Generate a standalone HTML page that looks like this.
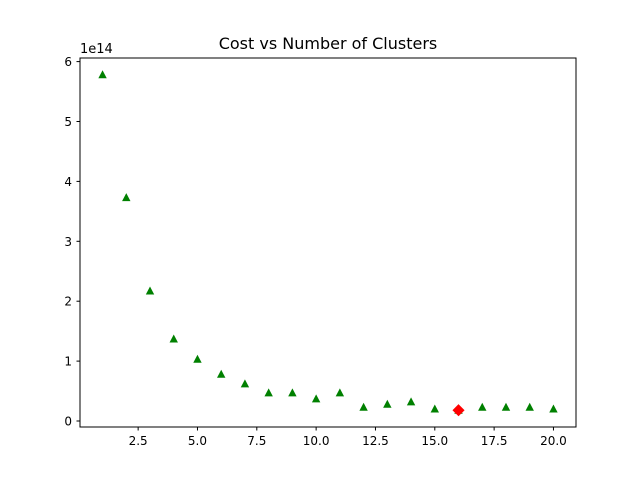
<!DOCTYPE html>
<html><head><meta charset="utf-8"><style>
body{margin:0;background:#fff;font-family:"Liberation Sans","DejaVu Sans",sans-serif;}
svg text{font-family:"DejaVu Sans","Liberation Sans",sans-serif;}
</style></head><body>
<svg id="chart" width="640" height="480" xmlns="http://www.w3.org/2000/svg">
<rect width="640" height="480" fill="#fff"/>
<text x="328" y="49" text-anchor="middle" font-size="16">Cost vs Number of Clusters</text>
<text x="80" y="53" font-size="13">1e14</text>
<g id="ticks"></g>
<g id="marks"></g>
<rect x="80" y="58" width="496" height="369" fill="none" stroke="#000" stroke-width="1"/>
</svg>
<script>
const clusters=[1,2,3,4,5,6,7,8,9,10,11,12,13,14,15,16,17,18,19,20];
const costs=[5.78,3.73,2.17,1.37,1.03,0.78,0.62,0.47,0.47,0.37,0.47,0.23,0.28,0.32,0.20,0.18,0.23,0.23,0.23,0.20];
const bestK=[16];
const bestCost=[0.18];
const xTicks=[2.5,5.0,7.5,10.0,12.5,15.0,17.5,20.0];
const yTicks=[0,1,2,3,4,5,6];
const X0=80,X1=576,Y0=427,Y1=58,xmin=0.05,xmax=20.95,ymin=-0.1,ymax=6.06;
function sx(v){return X0+(v-xmin)/(xmax-xmin)*(X1-X0);}
function sy(v){return Y0-(v-ymin)/(ymax-ymin)*(Y0-Y1);}
const NS="http://www.w3.org/2000/svg";
const tg=document.getElementById('ticks'),mg=document.getElementById('marks');
function mk(tag,attrs,parent){const e=document.createElementNS(NS,tag);for(const k in attrs)e.setAttribute(k,attrs[k]);parent.appendChild(e);return e;}
xTicks.forEach(t=>{const x=sx(t);
const l=mk('line',{x1:x,x2:x,y1:427,y2:430.5,stroke:'#000'},tg);


const tx=mk('text',{x:x,y:445,'text-anchor':'middle','font-size':'12'},tg);tx.textContent=t.toFixed(1);

});
yTicks.forEach(t=>{const y=sy(t);
const l=mk('line',{x1:76.5,x2:80,y1:y,y2:y,stroke:'#000'},tg);


const tx=mk('text',{x:72,y:y+4.5,'text-anchor':'end','font-size':'12'},tg);tx.textContent=t;

});
clusters.forEach((c,i)=>{const x=sx(c),y=sy(costs[i]);
const p=mk('polygon',{points:`${x},${y-4.5} ${x-4.2},${y+3.5} ${x+4.2},${y+3.5}`,fill:'#008000'},mg);

});
bestK.forEach((c,i)=>{const x=sx(c),y=sy(bestCost[i]);
const p=mk('polygon',{points:`${x},${y-5} ${x+5},${y} ${x},${y+5} ${x-5},${y}`,fill:'#ff0000',stroke:'#ff0000','stroke-width':'1.5'},mg);

});
</script>
</body></html>
